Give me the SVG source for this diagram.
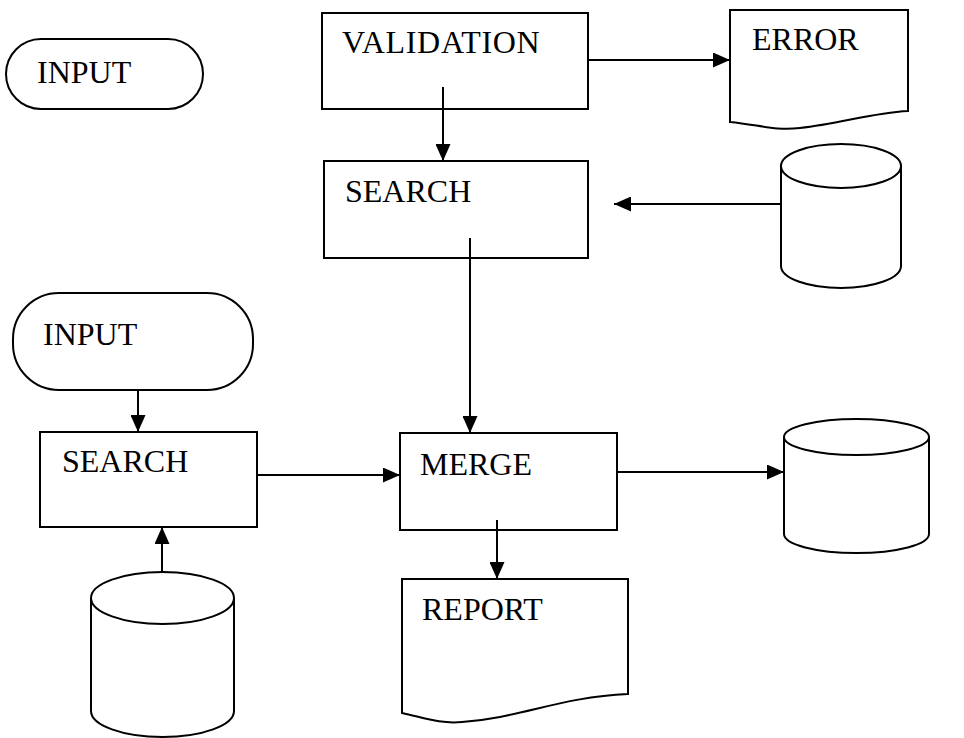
<svg xmlns="http://www.w3.org/2000/svg" width="964" height="738" viewBox="0 0 964 738">
<defs>
<style>
.s{fill:#fff;stroke:#000;stroke-width:2}
.c{fill:none;stroke:#000;stroke-width:2}
.t{font-family:"Liberation Serif","Times New Roman",serif;font-size:32px;fill:#000}
</style>
<marker id="a" viewBox="0 0 17 15" refX="17" refY="7.5" markerWidth="17" markerHeight="15" markerUnits="userSpaceOnUse" orient="auto">
<path d="M0,0 L17,7.5 L0,15 Z" fill="#000"/>
</marker>
</defs>
<rect width="964" height="738" fill="#fff"/>
<g id="input1">
<rect class="s" x="6" y="39" width="197" height="70" rx="35" ry="35"/>
<text class="t" x="37" y="83">INPUT</text>
</g>
<g id="validation">
<rect class="s" x="322" y="13" width="266" height="96"/>
<text class="t" x="342" y="53" letter-spacing="0.7">VALIDATION</text>
</g>
<g id="error">
<path class="s" d="M730,122 V10 H908 V111 C870,113 840,124 800,128 C775,131 760,125 730,122 Z"/>
<text class="t" x="752" y="50">ERROR</text>
</g>
<g id="search1">
<rect class="s" x="324" y="161" width="264" height="97"/>
<text class="t" x="345" y="202">SEARCH</text>
</g>
<g id="db1">
<path class="s" d="M781,166 V266 A60,22 0 0 0 901,266 V166"/>
<ellipse class="s" cx="841" cy="166" rx="60" ry="22"/>
</g>
<g id="input2">
<rect class="s" x="13" y="293" width="240" height="97" rx="46" ry="46"/>
<text class="t" x="43" y="345">INPUT</text>
</g>
<g id="search2">
<rect class="s" x="40" y="432" width="217" height="95"/>
<text class="t" x="62" y="472">SEARCH</text>
</g>
<g id="merge">
<rect class="s" x="400" y="433" width="217" height="97"/>
<text class="t" x="420" y="475">MERGE</text>
</g>
<g id="db2">
<path class="s" d="M784,437 V534 A72.5,19 0 0 0 929,534 V437"/>
<ellipse class="s" cx="856.5" cy="437" rx="72.5" ry="18"/>
</g>
<g id="report">
<path class="s" d="M402,713 V579 H628 V694 C560,697 520,718 462,722 C440,724 425,718 402,713 Z"/>
<text class="t" x="422" y="620">REPORT</text>
</g>
<g id="db3">
<path class="s" d="M91,598 V711 A71.5,26 0 0 0 234,711 V598"/>
<ellipse class="s" cx="162.5" cy="598" rx="71.5" ry="26"/>
</g>
<g id="connectors">
<line class="c" x1="588" y1="60" x2="730" y2="60" marker-end="url(#a)"/>
<line class="c" x1="443" y1="87" x2="443" y2="161" marker-end="url(#a)"/>
<line class="c" x1="781" y1="204" x2="614" y2="204" marker-end="url(#a)"/>
<line class="c" x1="470" y1="238" x2="470" y2="433" marker-end="url(#a)"/>
<line class="c" x1="138" y1="390" x2="138" y2="432" marker-end="url(#a)"/>
<line class="c" x1="257" y1="475" x2="400" y2="475" marker-end="url(#a)"/>
<line class="c" x1="162" y1="572" x2="162" y2="527" marker-end="url(#a)"/>
<line class="c" x1="617" y1="472" x2="784" y2="472" marker-end="url(#a)"/>
<line class="c" x1="497" y1="520" x2="497" y2="579" marker-end="url(#a)"/>
</g>
</svg>
